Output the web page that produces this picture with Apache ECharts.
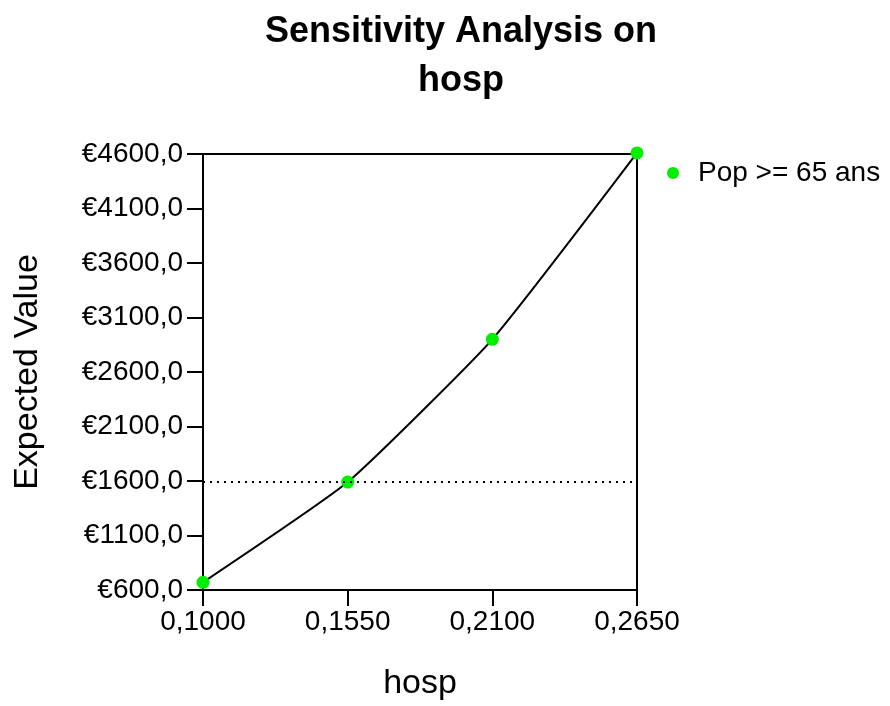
<!DOCTYPE html>
<html>
<head>
<meta charset="utf-8">
<script src="https://cdn.jsdelivr.net/npm/echarts@6/dist/echarts.min.js"></script>
<style>
  html, body { margin: 0; padding: 0; background: #fff; }
  #chart { width: 890px; height: 706px; }
</style>
</head>
<body>
<div id="chart"></div>
<script>
// x (hosp) values and expected value at each
const hospValues = ['0,1000', '0,1550', '0,2100', '0,2650'];
const expectedValues = [670, 1590, 2900, 4610];
const seriesName = 'Pop >= 65 ans';
const baselineValue = 1590;

const chart = echarts.init(document.getElementById('chart'));
const font = 'Liberation Sans, Arial, sans-serif';

chart.setOption({
  backgroundColor: '#fff',
  animation: false,
  title: {
    text: 'Sensitivity Analysis on\nhosp',
    left: 456,
    textAlign: 'center',
    top: 3,
    textStyle: { fontFamily: font, fontSize: 36, fontWeight: 'bold', color: '#000', lineHeight: 49 }
  },
  legend: {
    left: 662,
    top: 154,
    orient: 'vertical',
    icon: 'circle',
    itemWidth: 12,
    itemHeight: 12,
    data: [seriesName],
    textStyle: { fontFamily: font, fontSize: 28, color: '#000', padding: [0, 0, 0, 14] }
  },
  grid: {
    left: 203, right: 253, top: 154, bottom: 115,
    show: true, borderColor: '#000', borderWidth: 2
  },
  xAxis: {
    type: 'category',
    data: hospValues,
    boundaryGap: false,
    name: 'hosp',
    nameLocation: 'middle',
    nameGap: 77,
    nameTextStyle: { fontFamily: font, fontSize: 34, color: '#000' },
    axisLine: { lineStyle: { color: '#000', width: 2 } },
    axisTick: { length: 16, lineStyle: { color: '#000', width: 2 } },
    axisLabel: { fontFamily: font, fontSize: 28, color: '#000', margin: 18 },
    splitLine: { show: false }
  },
  yAxis: {
    type: 'value',
    min: 600,
    max: 4600,
    interval: 500,
    name: 'Expected Value',
    nameLocation: 'middle',
    nameGap: 158,
    nameTextStyle: { fontFamily: font, fontSize: 34, color: '#000' },
    axisLine: { show: true, lineStyle: { color: '#000', width: 2 } },
    axisTick: { show: true, length: 16, lineStyle: { color: '#000', width: 2 } },
    axisLabel: {
      fontFamily: font, fontSize: 28, color: '#000', margin: 20,
      formatter: (v) => '€' + v.toFixed(1).replace('.', ',')
    },
    splitLine: { show: false }
  },
  series: [{
    name: seriesName,
    type: 'line',
    data: expectedValues,
    smooth: 0.15,
    clip: false,
    symbol: 'circle',
    symbolSize: 13,
    itemStyle: { color: '#00ee00' },
    lineStyle: { color: '#000', width: 2 },
    z: 3,
    markLine: {
      silent: true,
      symbol: 'none',
      label: { show: false },
      lineStyle: { color: '#000', width: 2, type: [2, 5] },
      data: [{ yAxis: baselineValue }]
    }
  }]
});
</script>
</body>
</html>
